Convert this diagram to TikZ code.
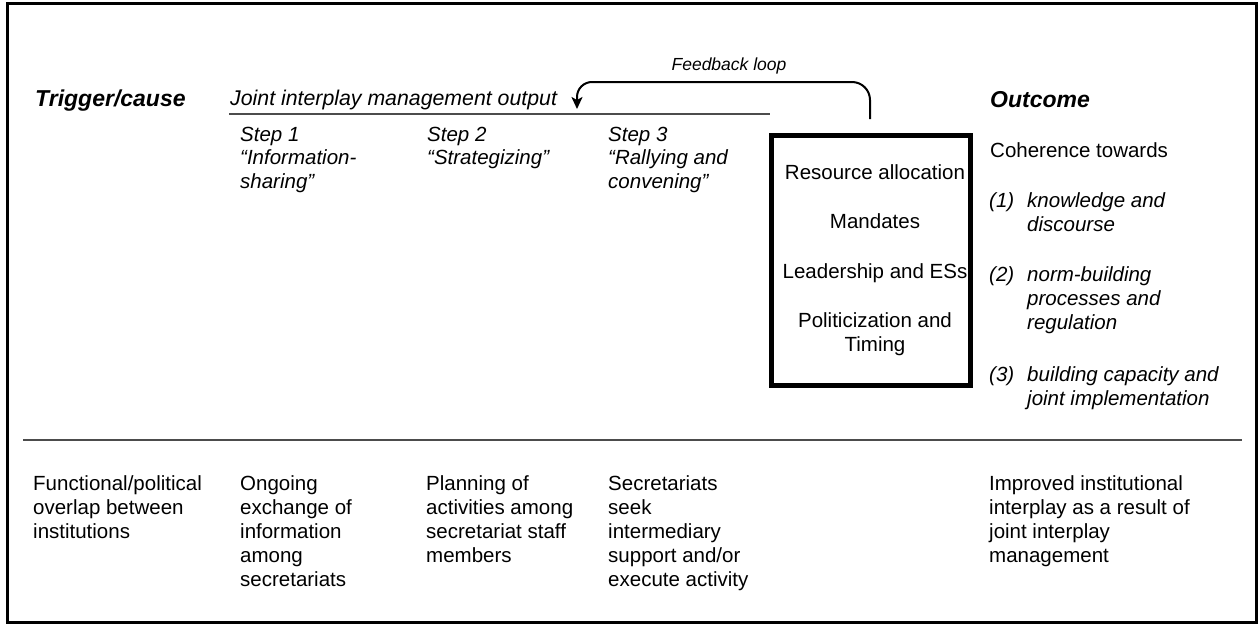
\documentclass[tikz,border=0pt]{standalone}
\usepackage{fontspec}
\setmainfont{Liberation Sans}
\usetikzlibrary{arrows.meta}

% font sizes
\newcommand\fsbody{\fontsize{20.5}{24.2}\selectfont}
\newcommand\fsstep{\fontsize{20.5}{23.5}\selectfont\itshape}
\newcommand\fshead{\fontsize{23}{27}\selectfont\bfseries\itshape}
\newcommand\fsfb{\fontsize{17.5}{20}\selectfont\itshape}
% multi-line text blocks, aligned on the first baseline
\newcommand\ml[1]{\begin{tabular}[t]{@{}l@{}}#1\end{tabular}}
\newcommand\mlc[1]{\begin{tabular}[t]{@{}c@{}}#1\end{tabular}}

\begin{document}
\begin{tikzpicture}[x=1pt,y=-1pt,
  txt/.style={anchor=base west, inner sep=0pt, font=\fsbody},
  head/.style={anchor=base west, inner sep=0pt, font=\fshead},
  steplabel/.style={anchor=base west, inner sep=0pt, font=\fsstep},
  rule/.style={draw=black!70, line width=1.6pt},
  factorbox/.style={draw=black, line width=5pt, minimum width=199.5pt,
    minimum height=250pt, inner sep=0pt},
  loop/.style={draw=black, line width=2pt,
    -{Stealth[length=12pt,width=11pt,inset=3pt]}}]

\useasboundingbox (0,0) rectangle (1258,624);
% outer frame
\draw[line width=3pt] (7.5,3.5) rectangle (1256.5,622.5);

% column headings
\node[head] (trigger) at (35,106) {Trigger/cause};
\node[head] (outcome) at (990,107) {Outcome};
\node[txt, font=\fontsize{21.3}{25}\selectfont\itshape] (joint) at (230,105) {Joint interplay management output};
\draw[rule] (229,114) -- (770,114);

% steps
\node[steplabel] (step1) at (240,141) {\ml{Step 1\\“Information-\\sharing”}};
\node[steplabel] (step2) at (427,141) {\ml{Step 2\\“Strategizing”}};
\node[steplabel] (step3) at (608,141) {\ml{Step 3\\“Rallying and\\convening”}};

% factor box
\node[factorbox] (factors) at (870.75,260.5) {};
\node[anchor=base, inner sep=0pt, font=\fsbody] (factortext) at (875,179)
  {\mlc{Resource allocation\\[25pt]Mandates\\[26pt]Leadership and ESs\\[25pt]Politicization and\\Timing}};

% feedback loop: up from the box, across, and down with an arrow
% (arc angles are in canvas orientation, y pointing up)
\coordinate (fbstart) at (870,119);
\coordinate (fbend) at (577,109);
\draw[loop] (fbstart) -- (870,100) arc[start angle=0, end angle=90, radius=18pt]
  -- (592,82) arc[start angle=90, end angle=180, radius=15pt] -- (fbend);
\node[anchor=base, inner sep=0pt, font=\fsfb] (fblabel) at (729,70) {Feedback loop};

% outcome column
\node[txt] (coherence) at (990,157) {Coherence towards};
\node[txt, font=\fsbody\itshape] (n1) at (989,207.5) {(1)};
\node[txt, font=\fsbody\itshape] (o1) at (1027,207.5) {\ml{knowledge and\\discourse}};
\node[txt, font=\fsbody\itshape] (n2) at (989,281) {(2)};
\node[txt, font=\fsbody\itshape] (o2) at (1027,281) {\ml{norm-building\\processes and\\regulation}};
\node[txt, font=\fsbody\itshape] (n3) at (989,381) {(3)};
\node[txt, font=\fsbody\itshape] (o3) at (1027,381) {\ml{building capacity and\\joint implementation}};

% divider
\draw[rule] (23,440) -- (1242,440);

% lower row
\node[txt] (functional) at (33,490) {\ml{Functional/political\\overlap between\\institutions}};
\node[txt] (ongoing) at (240,490) {\ml{Ongoing\\exchange of\\information\\among\\secretariats}};
\node[txt] (planning) at (426,490) {\ml{Planning of\\activities among\\secretariat staff\\members}};
\node[txt] (secretariats) at (608,490) {\ml{Secretariats\\seek\\intermediary\\support and/or\\execute activity}};
\node[txt] (improved) at (989,490) {\ml{Improved institutional\\interplay as a result of\\joint interplay\\management}};
\end{tikzpicture}
\end{document}
